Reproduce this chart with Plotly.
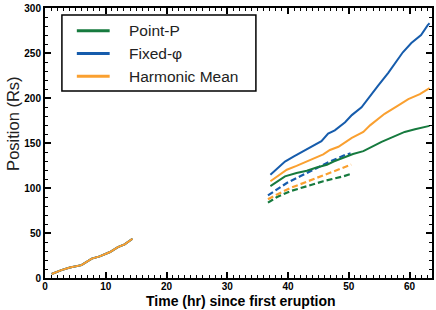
import plotly.graph_objects as go

# ---- data ----
early_t = [1.1, 2.7, 4.1, 6.0, 7.7, 9.0, 10.7, 12.0, 13.1, 14.4]
early_p = [4.4, 8.8, 11.7, 14.3, 21.6, 24.0, 28.9, 34.4, 37.4, 43.6]

pointp_t = [37.1, 38.2, 39.5, 41.4, 43.1, 44.7, 46.4, 47.5, 49.1, 50.7, 52.4, 53.7, 55.4, 57.3, 59.2, 60.9, 63.3]
pointp_p = [102, 107.5, 113, 116.6, 119.2, 122.8, 125.8, 129.4, 133.5, 137.8, 141, 145.8, 151.3, 156.8, 162.3, 165.2, 169]

fixed_t = [37.1, 38.2, 39.5, 40.9, 42.5, 44.2, 45.5, 46.6, 47.7, 49.4, 50.5, 52.1, 53.5, 54.8, 56.5, 57.7, 58.9, 60.3, 61.9, 63.0, 63.3]
fixed_p = [114.8, 122, 129.4, 134.9, 141, 147.7, 152, 160.4, 164, 173, 181, 189.7, 202.5, 213.5, 228, 239, 250.8, 261, 270, 281, 283]

harm_t = [37.1, 38.2, 39.8, 41.4, 43.1, 44.7, 45.8, 46.9, 48.3, 50.5, 52.4, 53.5, 55.9, 58.1, 59.8, 61.7, 63.3]
harm_p = [107.5, 113, 120.3, 124.6, 129.4, 133.8, 137.4, 142.2, 145.8, 155.7, 162.3, 169.6, 182.4, 191.6, 198.8, 204.3, 211]

pointp_d_t = [36.7, 38.2, 40.4, 43.1, 45.8, 49.1, 50.3]
pointp_d_p = [83.7, 90, 96.5, 102, 107.5, 113, 115.5]
fixed_d_t = [36.7, 38.2, 39.8, 42.0, 44.2, 46.9, 49.4, 50.3]
fixed_d_p = [91.8, 98.3, 105.6, 113, 120.3, 129.4, 136.7, 138.5]
harm_d_t = [36.7, 38.2, 40.4, 42.5, 44.7, 46.9, 50.4]
harm_d_p = [87.4, 92.9, 100, 105.6, 111, 116.6, 126]

names = ["Point-P", "Fixed-φ", "Harmonic Mean"]
colors = ["rgb(22,122,62)", "rgb(22,92,172)", "rgb(250,160,48)"]
x_title = "Time (hr) since first eruption"
y_title = "Position (Rs)"

fig = go.Figure()
solid = [(pointp_t, pointp_p), (fixed_t, fixed_p), (harm_t, harm_p)]
dashed = [(pointp_d_t, pointp_d_p), (fixed_d_t, fixed_d_p), (harm_d_t, harm_d_p)]

for i in range(3):
    fig.add_trace(go.Scatter(x=early_t, y=early_p, mode="lines",
                             line=dict(color=colors[i], width=2), showlegend=False))
for i in range(3):
    fig.add_trace(go.Scatter(x=dashed[i][0], y=dashed[i][1], mode="lines",
                             line=dict(color=colors[i], width=2.2, dash="6px,3px"), showlegend=False))
for i in range(3):
    fig.add_trace(go.Scatter(x=solid[i][0], y=solid[i][1], mode="lines",
                             line=dict(color=colors[i], width=2), showlegend=False))

# ---- legend (drawn box) and titles ----
px_l, px_r, px_t, px_b = 45, 434, 5, 278
def px(x):
    return (x - px_l) / (px_r - px_l)
def py(y):
    return (px_b - y) / (px_b - px_t)

shapes = [dict(type="rect", xref="paper", yref="paper", x0=px(62), x1=px(257), y0=py(89), y1=py(12),
               line=dict(color="black", width=1.5), fillcolor="white", layer="above")]
annotations = []
for i, yy in enumerate([28, 51, 74]):
    shapes.append(dict(type="line", xref="paper", yref="paper", x0=px(77), x1=px(110), y0=py(yy), y1=py(yy),
                       line=dict(color=colors[i], width=3), layer="above"))
    annotations.append(dict(xref="paper", yref="paper", x=px(127), y=py(yy), text=names[i],
                            showarrow=False, xanchor="left", yanchor="middle",
                            font=dict(family="Liberation Sans", size=15.5, color="#222")))

annotations.append(dict(xref="paper", yref="paper", x=px(242.5), y=py(311), text=x_title,
                        showarrow=False, xanchor="center", yanchor="bottom",
                        font=dict(family="Liberation Sans", size=14, color="black", weight="bold")))
annotations.append(dict(xref="paper", yref="paper", x=px(13), y=py(122), text=y_title, textangle=-90,
                        showarrow=False, xanchor="center", yanchor="middle",
                        font=dict(family="Liberation Sans", size=16.5, color="#222")))

axis_common = dict(showline=True, linecolor="black", linewidth=2, mirror="allticks",
                   ticks="inside", ticklen=6, tickwidth=1.5, tickcolor="black",
                   showgrid=False, zeroline=False, ticklabeloverflow="allow",
                   tickfont=dict(family="Liberation Sans", size=10, color="black", weight="bold"))

fig.update_layout(
    width=436, height=310,
    margin=dict(l=45, r=2, t=5, b=32),
    plot_bgcolor="white", paper_bgcolor="white",
    showlegend=False,
    shapes=shapes, annotations=annotations,
    xaxis=dict(range=[0, 63.7], dtick=10, tick0=0, ticklabelstandoff=-2,
               minor=dict(dtick=1, ticks="inside", ticklen=3, tickwidth=1, tickcolor="black"),
               **axis_common),
    yaxis=dict(range=[0, 300], dtick=50, tick0=0,
               minor=dict(dtick=10, ticks="inside", ticklen=3, tickwidth=1, tickcolor="black"),
               **axis_common),
)

fig.write_html("out.html", config={"displayModeBar": False},
               post_script="document.body.style.margin='0';")
